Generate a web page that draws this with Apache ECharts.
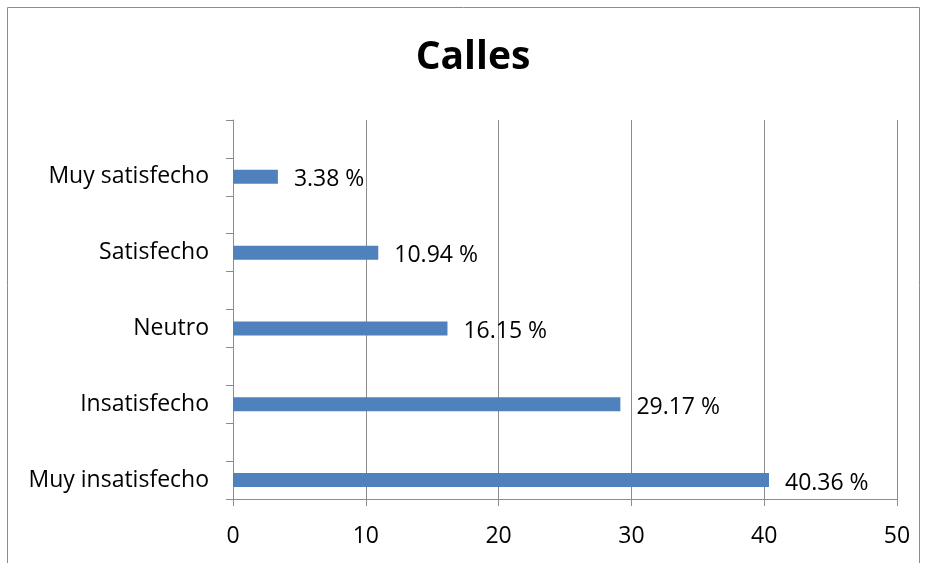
<!DOCTYPE html>
<html>
<head>
<meta charset="utf-8">
<script src="https://cdn.jsdelivr.net/npm/echarts@6/dist/echarts.min.js"></script>
<style>
	html, body { margin: 0; padding: 0; background: #fff; }
	#chart { width: 926px; height: 563px; }
</style>
</head>
<body>
<div id="chart"></div>
<script>
// categorias (de abajo hacia arriba); las vacias son huecos del grafico original
var categories = ["Muy insatisfecho", "", "Insatisfecho", "", "Neutro", "", "Satisfecho", "", "Muy satisfecho", ""];
var values = [40.36, null, 29.17, null, 16.15, null, 10.94, null, 3.38, null];
var xTicks = [0, 10, 20, 30, 40, 50];

var FONT = "'Open Sans', 'Noto Sans', sans-serif";
var GRAY = "#8c8c8c";

var chart = echarts.init(document.getElementById("chart"));

var option = {
	backgroundColor: "#fff",
	animation: false,
	title: {
		text: "Calles",
		left: 468,
		textAlign: "center",
		top: 33,
		textStyle: {
			fontFamily: FONT,
			fontSize: 39,
			fontWeight: "bold",
			color: "#000"
		}
	},
	graphic: [{
		type: "rect",
		shape: { x: 7.5, y: 7.5, width: 912, height: 570 },
		style: { fill: "none", stroke: GRAY, lineWidth: 1 },
		silent: true
	}],
	grid: {
		left: 233,
		right: 29,
		top: 120,
		bottom: 64,
		containLabel: false
	},
	xAxis: {
		type: "value",
		min: xTicks[0],
		max: xTicks[xTicks.length - 1],
		interval: 10,
		axisLine: { show: true, lineStyle: { color: GRAY, width: 1 } },
		axisTick: { show: true, length: 7, lineStyle: { color: GRAY } },
		splitLine: { show: true, lineStyle: { color: GRAY, width: 1 } },
		axisLabel: {
			margin: 26,
			fontFamily: FONT,
			fontSize: 23,
			color: "#000"
		}
	},
	yAxis: {
		type: "category",
		data: categories,
		axisLine: { show: true, lineStyle: { color: GRAY, width: 1 } },
		axisTick: { show: true, length: 7, interval: 0, lineStyle: { color: GRAY } },
		splitLine: { show: false },
		axisLabel: {
			interval: 0,
			margin: 24,
			fontFamily: FONT,
			fontSize: 23,
			color: "#000"
		}
	},
	series: [{
		type: "bar",
		data: values,
		barWidth: 14,
		itemStyle: { color: "#4f81bd" },
		label: {
			show: true,
			position: "right",
			distance: 16,
			offset: [0, 3],
			fontFamily: FONT,
			fontSize: 23,
			color: "#000",
			formatter: function (p) { return p.value.toFixed(2) + " %"; }
		}
	}]
};

chart.setOption(option);
</script>
</body>
</html>
